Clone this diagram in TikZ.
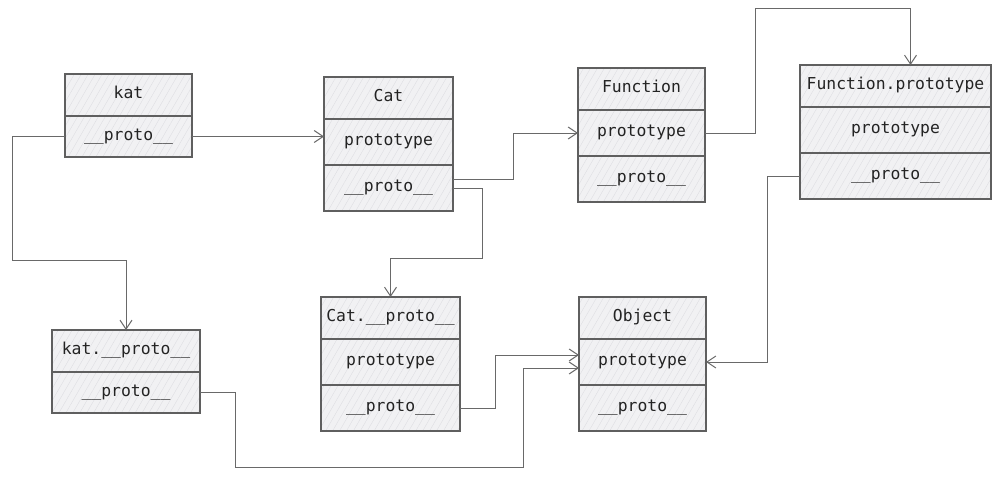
\documentclass[tikz,border=0pt]{standalone}
\usepackage{fontspec}
\setmonofont{DejaVu Sans Mono}
\usepackage{tikz}
\usetikzlibrary{arrows.meta,positioning,patterns.meta}
\definecolor{boxfill}{RGB}{241,241,243}
\definecolor{boxline}{RGB}{95,95,95}
\definecolor{hatch}{RGB}{220,220,225}
\definecolor{wire}{RGB}{105,105,105}
\definecolor{labeltext}{RGB}{35,35,35}

\begin{document}
\begin{tikzpicture}[x=1pt, y=-1pt,
    cell/.style={rectangle, draw=boxline, line width=1.1pt, preaction={fill=boxfill},
        pattern={Lines[angle=60,distance=6pt,line width=0.35pt]}, pattern color=hatch,
        inner sep=0pt, outer sep=0pt, text=labeltext, text height=11pt, text depth=3.5pt,
        font=\ttfamily\fontsize{16.4pt}{18pt}\selectfont},
    head/.style={cell, minimum height=42pt},
    slot/.style={cell, minimum height=46pt},
    arrow/.style={-{Straight Barb[length=9pt,width=12pt]}, draw=wire, line width=1pt},
]
    \useasboundingbox (0,0) rectangle (999,479);

    % Top row
    \node[head, minimum width=127pt] (kat) at (128.5,95) {kat};
    \node[slot, minimum width=127pt, minimum height=41pt, below=0pt of kat] (katproto) {\_\_proto\_\_};

    \node[head, minimum width=129pt] (cat) at (388.5,98) {Cat};
    \node[slot, minimum width=129pt, below=0pt of cat] (catprototype) {prototype};
    \node[slot, minimum width=129pt, below=0pt of catprototype] (catproto) {\_\_proto\_\_};

    \node[head, minimum width=127pt] (fn) at (641.5,89) {Function};
    \node[slot, minimum width=127pt, below=0pt of fn] (fnprototype) {prototype};
    \node[slot, minimum width=127pt, below=0pt of fnprototype] (fnproto) {\_\_proto\_\_};

    \node[head, minimum width=191pt] (fnp) at (895.5,86) {Function.prototype};
    \node[slot, minimum width=191pt, below=0pt of fnp] (fnpprototype) {prototype};
    \node[slot, minimum width=191pt, below=0pt of fnpprototype] (fnpproto) {\_\_proto\_\_};

    % Bottom row
    \node[head, minimum width=148pt] (katp) at (126,351) {kat.\_\_proto\_\_};
    \node[slot, minimum width=148pt, minimum height=41pt, below=0pt of katp] (katpproto) {\_\_proto\_\_};

    \node[head, minimum width=139pt] (catp) at (390.5,318) {Cat.\_\_proto\_\_};
    \node[slot, minimum width=139pt, below=0pt of catp] (catpprototype) {prototype};
    \node[slot, minimum width=139pt, below=0pt of catpprototype] (catpproto) {\_\_proto\_\_};

    \node[head, minimum width=127pt] (obj) at (642.5,318) {Object};
    \node[slot, minimum width=127pt, below=0pt of obj] (objprototype) {prototype};
    \node[slot, minimum width=127pt, below=0pt of objprototype] (objproto) {\_\_proto\_\_};

    % Links
    \draw[arrow] (katproto.east) -- (catprototype.west |- katproto.east);
    \draw[arrow] (katproto.west) -| (12,260) -| (katp.north);
    \draw[arrow] ([yshift=9pt]catproto.east) -| (513,133) -- (fnprototype.west);
    \draw[arrow] (catproto.east) -| (482,258) -| (catp.north);
    \draw[arrow] (fnprototype.east) -| (755,8) -| ([xshift=15pt]fnp.north);
    \draw[arrow] (fnpproto.west) -| (767,362) -- (objprototype.east);
    \draw[arrow] (catpproto.east) -| (495,355) -- ([yshift=7pt]objprototype.west);
    \draw[arrow] (katpproto.east) -| (235,467) -| (523,368) -- ([yshift=-6pt]objprototype.west);
\end{tikzpicture}
\end{document}
